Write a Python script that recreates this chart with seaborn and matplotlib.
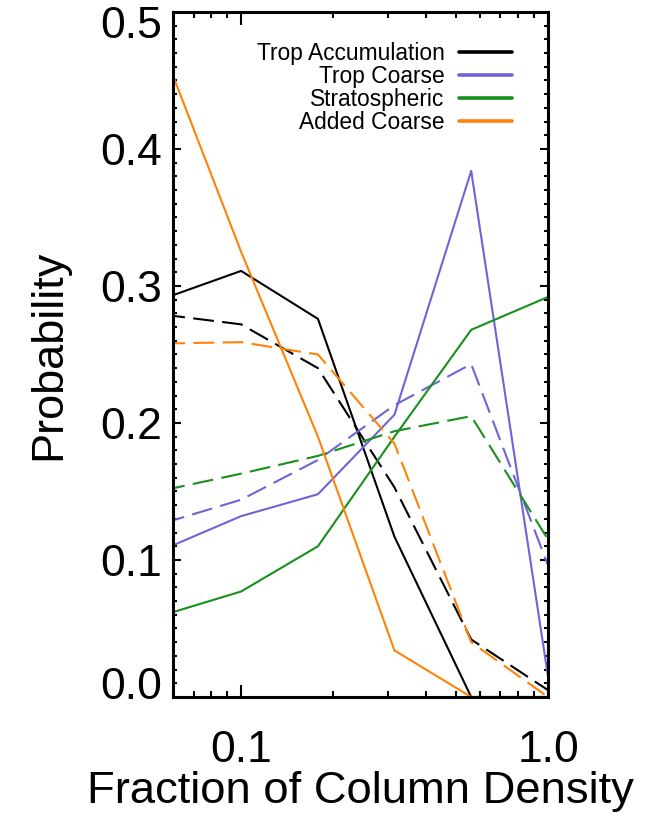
import numpy as np
import pandas as pd
import matplotlib
matplotlib.use("Agg")
import matplotlib.pyplot as plt
import matplotlib.transforms as mtransforms
from matplotlib.lines import Line2D
from matplotlib.ticker import FixedLocator, LogLocator, MultipleLocator, NullFormatter
import seaborn as sns

# Bin centres of the column-density fraction (log-spaced)
frac = [0.0562, 0.1, 0.178, 0.316, 0.562, 1.0]

types = ["Trop Accumulation", "Trop Coarse", "Stratospheric", "Added Coarse"]
colors = ["#000000", "#6E64D8", "#18901C", "#FF8208"]

# Probability per bin: solid curves (run A) and dashed curves (run B)
trop_acc_a = [0.291, 0.311, 0.276, 0.117, 0.0, 0.0]
trop_acc_b = [0.279, 0.272, 0.240, 0.153, 0.042, 0.005]
trop_coarse_a = [0.108, 0.132, 0.148, 0.206, 0.384, 0.015]
trop_coarse_b = [0.127, 0.144, 0.173, 0.213, 0.243, 0.096]
strat_a = [0.060, 0.077, 0.110, 0.190, 0.268, 0.292]
strat_b = [0.151, 0.163, 0.176, 0.194, 0.205, 0.115]
added_a = [0.470, 0.325, 0.190, 0.034, 0.0, 0.0]
added_b = [0.258, 0.259, 0.250, 0.185, 0.040, 0.0]

xticks = [0.1, 1.0]
xticklabels = ["0.1", "1.0"]
yticks = [0.0, 0.1, 0.2, 0.3, 0.4, 0.5]
yticklabels = ["0.0", "0.1", "0.2", "0.3", "0.4", "0.5"]

series = {
    ("Trop Accumulation", "A"): trop_acc_a,
    ("Trop Accumulation", "B"): trop_acc_b,
    ("Trop Coarse", "A"): trop_coarse_a,
    ("Trop Coarse", "B"): trop_coarse_b,
    ("Stratospheric", "A"): strat_a,
    ("Stratospheric", "B"): strat_b,
    ("Added Coarse", "A"): added_a,
    ("Added Coarse", "B"): added_b,
}
rows = []
for (t, run), vals in series.items():
    for x, y in zip(frac, vals):
        rows.append({"frac": x, "prob": y, "type": t, "run": run})
df = pd.DataFrame(rows)

sns.set_theme(style="ticks")
plt.rcParams["font.family"] = ["Liberation Sans", "DejaVu Sans"]
plt.rcParams["text.color"] = "black"
plt.rcParams["axes.labelcolor"] = "black"

fig = plt.figure(figsize=(6.57, 8.15), dpi=100)
ax = fig.add_axes([0.2633, 0.1448, 0.5708, 0.8405])
ax.set_xscale("log")

sns.lineplot(
    data=df, x="frac", y="prob", hue="type", style="run",
    hue_order=types, palette=dict(zip(types, colors)),
    style_order=["A", "B"], dashes={"A": "", "B": (10, 4)},
    estimator=None, sort=False, linewidth=1.5, legend=False, ax=ax,
)

ax.set_xlim(0.06, 1.0)
ax.set_ylim(0.0, 0.5)

ax.xaxis.set_major_locator(FixedLocator(xticks))
ax.set_xticklabels(xticklabels)
ax.xaxis.set_minor_locator(LogLocator(base=10, subs=np.arange(2, 10)))
ax.xaxis.set_minor_formatter(NullFormatter())
ax.yaxis.set_major_locator(FixedLocator(yticks))
ax.set_yticklabels(yticklabels)
ax.yaxis.set_minor_locator(MultipleLocator(0.01))

ax.tick_params(axis="both", which="both", direction="in",
               top=True, right=True, width=1.5, colors="black")
ax.tick_params(axis="x", which="major", length=9, pad=24, labelsize=32)
ax.tick_params(axis="x", which="minor", length=4.5)
ax.tick_params(axis="y", which="major", length=6, pad=8, labelsize=32)
ax.tick_params(axis="y", which="minor", length=3)

for s in ax.spines.values():
    s.set_linewidth(2.2)
    s.set_color("black")

ax.set_xlabel("Fraction of Column Density", fontsize=32.7, labelpad=0)
ax.set_ylabel("Probability", fontsize=32.5, labelpad=22)

# Keep the end labels of the y axis inside the frame height
for lab in ax.get_yticklabels():
    if lab.get_text() == "0.5":
        lab.set_transform(lab.get_transform() +
                          mtransforms.ScaledTranslation(0, -0.10, fig.dpi_scale_trans))
    elif lab.get_text() == "0.0":
        lab.set_transform(lab.get_transform() +
                          mtransforms.ScaledTranslation(0, 0.14, fig.dpi_scale_trans))

handles = [Line2D([], [], color=c, lw=2.6) for c in colors]
ax.legend(handles, types, loc="upper right", frameon=False, markerfirst=False,
          fontsize=16.4, handlelength=2.3, handletextpad=0.65,
          labelspacing=0.0, borderaxespad=0.3, bbox_to_anchor=(0.946, 0.979))

fig.savefig("out.png", dpi=100)
